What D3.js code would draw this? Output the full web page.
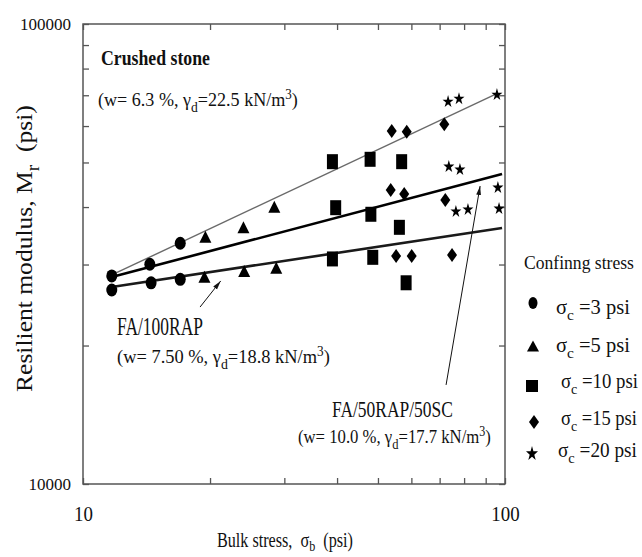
<!DOCTYPE html>
<html><head><meta charset="utf-8">
<script src="https://cdn.jsdelivr.net/npm/d3@7"></script>
<style>body{margin:0;background:#fff} svg{display:block}</style>
</head><body>
<svg id="c" width="642" height="557"></svg>
<script>
// ---------- data ----------
const xDomain = [10, 100];
const yDomain = [10000, 100000];
const xTickValues = [10, 20, 30, 40, 50, 60, 70, 80, 90, 100];
const yTickValues = [10000, 20000, 30000, 40000, 50000, 60000, 70000, 80000, 90000, 100000];
const xTickLabels = [10, 100];
const yTickLabels = [10000, 100000];

const confiningStress = [3, 5, 10, 15, 20];

const bulk3 = [11.7, 11.7, 14.4, 14.5, 17.0, 17.0];
const mr3   = [28330, 26410, 30040, 27380, 33370, 27860];
const bulk5 = [19.5, 19.4, 24.0, 24.1, 28.4, 28.7];
const mr5   = [34480, 28230, 36140, 29040, 40070, 29530];
const bulk10 = [39.0, 39.7, 39.0, 47.9, 48.1, 48.6, 56.9, 56.2, 58.3];
const mr10   = [50200, 39870, 30850, 50800, 38580, 31100, 50200, 36140, 27380];
const bulk15 = [53.9, 58.5, 71.8, 53.6, 57.7, 72.2, 55.2, 60.1, 74.9];
const mr15   = [58540, 58330, 60530, 43570, 42700, 41440, 31300, 31300, 31450];
const bulk20 = [73.3, 77.8, 95.7, 73.6, 78.2, 96.2, 76.5, 81.7, 96.8];
const mr20   = [68000, 69000, 70400, 49130, 48400, 44220, 39240, 39630, 39810];

const fitNames = ["Crushed stone", "FA/50RAP/50SC", "FA/100RAP"];
const fitBulk  = [[11.7, 96.2], [11.7, 98.4], [11.7, 98.4]];
const fitMr    = [[28470, 70790], [28180, 47200], [26810, 36020]];

// arrows: [from bulk, from Mr, to bulk, to Mr]
const arrowFA100 = [18.94, 24250, 21.2, 27630];
const arrowFA50  = [72.5, 16420, 87.3, 44440];

// ---------- setup ----------
const svg = d3.select("#c");
const FONT = "Liberation Serif, Times New Roman, serif";
const L = 83, R = 505, T = 24, B = 484;
const x = d3.scaleLog().domain(xDomain).range([L, R]);
const y = d3.scaleLog().domain(yDomain).range([B, T]);

svg.append("defs").append("marker")
  .attr("id", "ah").attr("markerUnits", "userSpaceOnUse")
  .attr("markerWidth", 10).attr("markerHeight", 6)
  .attr("refX", 9).attr("refY", 3).attr("orient", "auto")
  .append("path").attr("d", "M0,0.6 L9,3 L0,5.4 Z").attr("fill", "#111");

// frame
svg.append("rect").attr("x", L).attr("y", T).attr("width", R - L).attr("height", B - T)
  .attr("fill", "none").attr("stroke", "#555").attr("stroke-width", 1.5);

function styleAxis(g) {
  g.select(".domain").remove();
  g.selectAll(".tick line").attr("stroke", "#555").attr("stroke-width", 1.3);
  g.selectAll("text").attr("font-family", FONT).attr("fill", "#111");
}
const fmtX = v => xTickLabels.includes(v) ? String(v) : "";
const fmtY = v => yTickLabels.includes(v) ? String(v) : "";

const gB = svg.append("g").attr("transform", `translate(0,${B})`)
  .call(d3.axisBottom(x).tickValues(xTickValues).tickFormat(fmtX).tickSizeInner(-6).tickSizeOuter(0).tickPadding(22));
styleAxis(gB);
gB.selectAll("text").attr("font-size", 21).attr("transform", "scale(0.9,1)");

const gT = svg.append("g").attr("transform", `translate(0,${T})`)
  .call(d3.axisTop(x).tickValues(xTickValues).tickFormat("").tickSizeInner(-6).tickSizeOuter(0));
styleAxis(gT);

const gL = svg.append("g").attr("transform", `translate(${L},0)`)
  .call(d3.axisLeft(y).tickValues(yTickValues).tickFormat(fmtY).tickSizeInner(-6).tickSizeOuter(0).tickPadding(12));
styleAxis(gL);
gL.selectAll("text").attr("font-size", 17);

const gR = svg.append("g").attr("transform", `translate(${R},0)`)
  .call(d3.axisRight(y).tickValues(yTickValues).tickFormat("").tickSizeInner(-6).tickSizeOuter(0));
styleAxis(gR);

// fit lines
const lineStyles = [
  {stroke: "#6a6a6a", w: 1.4},
  {stroke: "#000", w: 2.6},
  {stroke: "#1a1a1a", w: 2.6}
];
const lineGen = d3.line().x(d => x(d[0])).y(d => y(d[1]));
fitNames.forEach((n, i) => {
  const pts = fitBulk[i].map((b, j) => [b, fitMr[i][j]]);
  svg.append("path").attr("d", lineGen(pts)).attr("fill", "none")
    .attr("stroke", lineStyles[i].stroke).attr("stroke-width", lineStyles[i].w);
});

// markers
function marker(g, type, cx, cy, w, h) {
  const p = g.append("path").attr("d", d3.symbol().type(type).size(200)()).attr("fill", "#000");
  const bb = p.node().getBBox();
  const sx = w / bb.width, sy = h / bb.height;
  const mx = bb.x + bb.width / 2, my = bb.y + bb.height / 2;
  p.attr("transform", `translate(${cx},${cy}) scale(${sx},${sy}) translate(${-mx},${-my})`);
}
const groups = [
  {type: d3.symbolCircle,   bulk: bulk3,  mr: mr3,  w: 11, h: 13, lw: 9,  lh: 12},
  {type: d3.symbolTriangle, bulk: bulk5,  mr: mr5,  w: 12, h: 12, lw: 12, lh: 11},
  {type: d3.symbolSquare,   bulk: bulk10, mr: mr10, w: 11, h: 15, lw: 12, lh: 12},
  {type: d3.symbolDiamond,  bulk: bulk15, mr: mr15, w: 10, h: 14, lw: 10, lh: 14},
  {type: d3.symbolStar,     bulk: bulk20, mr: mr20, w: 11, h: 12, lw: 12, lh: 14}
];
const gm = svg.append("g");
groups.forEach(gr => {
  gr.bulk.forEach((b, i) => marker(gm, gr.type, x(b), y(gr.mr[i]), gr.w, gr.h));
});

// arrows
[arrowFA100, arrowFA50].forEach(a => {
  svg.append("line").attr("x1", x(a[0])).attr("y1", y(a[1])).attr("x2", x(a[2])).attr("y2", y(a[3]))
    .attr("stroke", "#111").attr("stroke-width", 1).attr("marker-end", "url(#ah)");
});

// text helper
function addText(o) {
  const t = svg.append("text").attr("font-family", FONT).attr("font-size", o.size)
    .attr("font-weight", o.weight || "normal").attr("fill", "#111")
    .style("white-space", "pre");
  let cur = 0;
  const subOff = o.subOff != null ? o.subOff : 0.3;
  o.parts.forEach(p => {
    const [s, k] = typeof p === "string" ? [p, "n"] : p;
    let target = 0, fs = o.size;
    if (k === "sub") { target = o.size * subOff; fs = o.size * 0.75; }
    if (k === "sup") { target = -o.size * 0.38; fs = o.size * 0.72; }
    t.append("tspan").attr("dy", target - cur).attr("font-size", fs).text(s);
    cur = target;
  });
  const len = t.node().getComputedTextLength();
  const s = o.width ? o.width / len : 1;
  t.attr("transform", `translate(${o.x},${o.y}) rotate(${o.rotate || 0}) scale(${s},1)`);
  return t;
}

addText({x: 101, y: 65, size: 20, weight: "bold", width: 109, parts: [fitNames[0]]});
addText({x: 98, y: 106, size: 19.5, width: 200, parts: ["(w= 6.3 %, γ", ["d", "sub"], "=22.5 kN/m", ["3", "sup"], ")"]});
addText({x: 117, y: 335, size: 25, width: 86, parts: [fitNames[2]]});
addText({x: 117, y: 363, size: 19, width: 213, parts: ["(w= 7.50 %, γ", ["d", "sub"], "=18.8 kN/m", ["3", "sup"], ")"]});
addText({x: 332, y: 417, size: 23.5, width: 121, parts: [fitNames[1]]});
addText({x: 298, y: 443, size: 19.5, width: 193, parts: ["(w= 10.0 %, γ", ["d", "sub"], "=17.7 kN/m", ["3", "sup"], ")"]});

// axis titles
addText({x: 217, y: 547, size: 20, width: 136, subOff: 0.18, parts: ["Bulk stress,  σ", ["b", "sub"], "  (psi)"]});
addText({x: 32, y: 392, size: 24, width: 287, rotate: -90, parts: ["Resilient modulus, M", ["r", "sub"], "  (psi)"]});

// legend
addText({x: 524, y: 269, size: 19, width: 110, parts: ["Confinng stress"]});
const legMarkX = [533, 533, 532, 534, 532];
const legMarkY = [303, 346, 386, 422, 453];
const legTextX = [556, 556, 561, 561, 558];
const legTextY = [314, 352, 388, 425, 457];
const legTextW = [74, 74, 77, 76, 79];
groups.forEach((gr, i) => {
  marker(svg, gr.type, legMarkX[i], legMarkY[i], gr.lw, gr.lh);
  addText({x: legTextX[i], y: legTextY[i], size: 20, width: legTextW[i],
    parts: ["σ", ["c", "sub"], " =" + confiningStress[i] + " psi"]});
});
</script>
</body></html>
